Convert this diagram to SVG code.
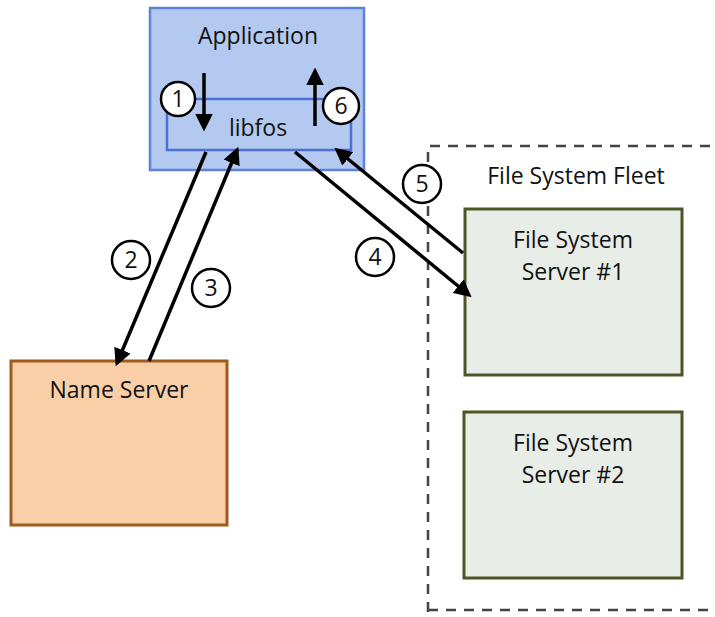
<svg xmlns="http://www.w3.org/2000/svg" width="715" height="617" viewBox="0 0 715 617">
<defs>
<marker id="ah" markerWidth="5" markerHeight="5" refX="4" refY="2.5" orient="auto" markerUnits="strokeWidth">
<path d="M0,0 L5,2.5 L0,5 Z" fill="#000"/>
</marker>
</defs>
<style>
text{font-family:"Open Sans","Liberation Sans",sans-serif;fill:#111}
.lbl{font-size:23px;text-anchor:middle}
.num{font-size:23px;text-anchor:middle}
.circ{fill:#fff;stroke:#000;stroke-width:2.5}
.conn{stroke:#000;stroke-width:3.5;fill:none;marker-end:url(#ah)}
.fss{fill:#E9EDE7;stroke:#4E5628;stroke-width:3}
</style>
<rect width="715" height="617" fill="#fff"/>
<g id="fleet">
<path d="M428,612 L428,146 L720,146" fill="none" stroke="#444" stroke-width="2.5" stroke-dasharray="10,8"/>
<path d="M428,610 L720,610" fill="none" stroke="#444" stroke-width="2.5" stroke-dasharray="10,8"/>
<text class="lbl" x="576" y="184">File System Fleet</text>
</g>
<g id="application">
<rect x="150" y="8" width="214" height="162" fill="#B3C9EF" stroke="#5E82DA" stroke-width="2.5"/>
<text class="lbl" x="258" y="44">Application</text>
</g>
<g id="libfos">
<path d="M167,99 L351,99 L351,150 L167,150 Z" fill="none" stroke="#4B6FD4" stroke-width="2.5"/>
<text class="lbl" x="258" y="136">libfos</text>
</g>
<g id="name-server">
<rect x="11" y="361" width="216" height="164" fill="#FACFA8" stroke="#9E5B1C" stroke-width="3"/>
<text class="lbl" x="119" y="398">Name Server</text>
</g>
<g id="fss1">
<rect class="fss" x="465" y="209" width="217" height="166"/>
<text class="lbl" x="573" y="248">File System</text>
<text class="lbl" x="573" y="280">Server #1</text>
</g>
<g id="fss2">
<rect class="fss" x="464" y="412" width="218" height="166"/>
<text class="lbl" x="573" y="451">File System</text>
<text class="lbl" x="573" y="483">Server #2</text>
</g>
<g id="connectors">
<line class="conn" x1="204" y1="73" x2="204" y2="128"/>
<line class="conn" x1="315" y1="126" x2="315" y2="71"/>
<line class="conn" x1="206" y1="152" x2="117" y2="363"/>
<line class="conn" x1="149" y1="361" x2="237" y2="150"/>
<line class="conn" x1="295" y1="152" x2="469" y2="295"/>
<line class="conn" x1="463" y1="253" x2="337" y2="150"/>
</g>
<g id="step-labels">
<circle class="circ" cx="178" cy="99" r="17"/><text class="num" x="178" y="107">1</text>
<circle class="circ" cx="341" cy="106" r="18"/><text class="num" x="341" y="114">6</text>
<circle class="circ" cx="131" cy="260" r="19"/><text class="num" x="131" y="268">2</text>
<circle class="circ" cx="211" cy="288" r="19"/><text class="num" x="211" y="296">3</text>
<circle class="circ" cx="375" cy="257" r="19"/><text class="num" x="375" y="265">4</text>
<circle class="circ" cx="422" cy="184" r="19"/><text class="num" x="422" y="192">5</text>
</g>
</svg>
